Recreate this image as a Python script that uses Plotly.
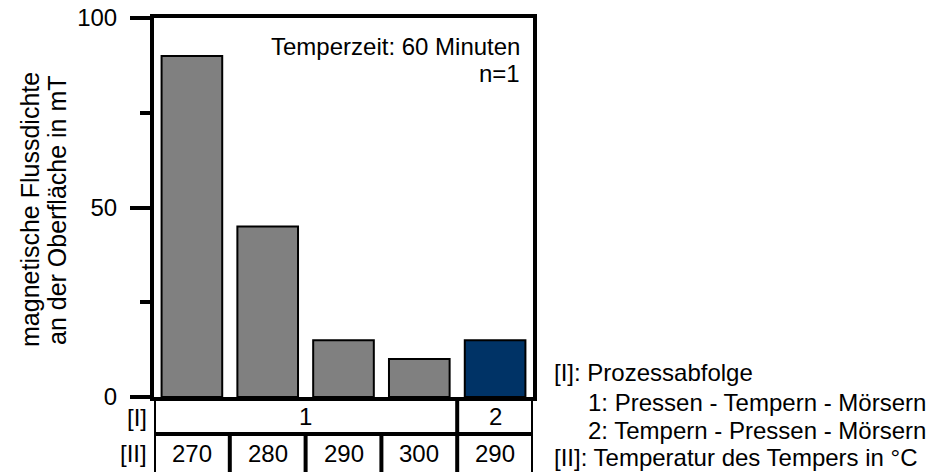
import plotly.graph_objects as go

# Magnetic flux density at the surface per sample
process_seq = ["1", "1", "1", "1", "2"]          # [I] Prozessabfolge
temper_temp = ["270", "280", "290", "300", "290"]  # [II] Temperatur des Tempers in °C
flux_mT = [90, 45, 15, 10, 15]
bar_colors = ["#808080", "#808080", "#808080", "#808080", "#003366"]

y_ticks = [0, 50, 100]

FONT = "Liberation Sans, Arial, sans-serif"
FS = 24
LW = 4
W, H = 932, 472
L, R, T, B = 154, 399, 18, 75
plot_h = H - T - B


def py(px):
    """pixel row -> paper y"""
    return (H - B - px) / plot_h


def pxp(px):
    """pixel column -> paper x"""
    return (px - L) / (W - L - R)


x_pos = list(range(len(flux_mT)))

fig = go.Figure(
    go.Bar(
        x=x_pos,
        y=flux_mT,
        width=0.8,
        marker=dict(color=bar_colors, line=dict(color="black", width=2)),
        hoverinfo="skip",
    )
)

fig.update_layout(
    width=W,
    height=H,
    margin=dict(l=L, r=R, t=T, b=B, autoexpand=False),
    paper_bgcolor="white",
    plot_bgcolor="white",
    showlegend=False,
    font=dict(family=FONT, size=FS, color="black"),
    xaxis=dict(
        range=[-0.5, len(flux_mT) - 0.5],
        showticklabels=False,
        ticks="",
        showgrid=False,
        zeroline=False,
        showline=True,
        linecolor="black",
        linewidth=LW,
        mirror=True,
        fixedrange=True,
    ),
    yaxis=dict(
        range=[0, 100],
        tickvals=y_ticks,
        ticks="outside",
        ticklen=20,
        tickwidth=LW,
        tickcolor="black",
        ticklabelstandoff=8,
        minor=dict(tickvals=[25, 75], ticks="outside", ticklen=10, tickwidth=LW, tickcolor="black"),
        showgrid=False,
        zeroline=False,
        showline=True,
        linecolor="black",
        linewidth=LW,
        mirror=True,
        tickfont=dict(family=FONT, size=FS),
        fixedrange=True,
    ),
)

# Table below the bars
n = len(flux_mT)
row1_bot = py(434)
row2_bot = py(477)
line = dict(color="black", width=LW)
shapes = [
    dict(type="line", xref="x", yref="paper", x0=-0.5, x1=n - 0.5, y0=row1_bot, y1=row1_bot, line=line),
    dict(type="line", xref="x", yref="paper", x0=-0.5, x1=n - 0.5, y0=row2_bot, y1=row2_bot, line=line),
    dict(type="line", xref="x", yref="paper", x0=-0.5, x1=-0.5, y0=0, y1=row2_bot, line=line),
    dict(type="line", xref="x", yref="paper", x0=n - 0.5, x1=n - 0.5, y0=0, y1=row2_bot, line=line),
]
# cell dividers: full height where the process group changes, row [II] only otherwise
for i in range(1, n):
    y_top = 0 if process_seq[i] != process_seq[i - 1] else row1_bot
    shapes.append(dict(type="line", xref="x", yref="paper", x0=i - 0.5, x1=i - 0.5,
                       y0=y_top, y1=row2_bot, line=line))
fig.update_layout(shapes=shapes)

ann = []
# row [I] labels, centered over each group
groups = []
start = 0
for i in range(1, n + 1):
    if i == n or process_seq[i] != process_seq[start]:
        groups.append((process_seq[start], (start + i - 1) / 2))
        start = i
for label, xc in groups:
    ann.append(dict(x=xc, y=py(416), xref="x", yref="paper", text=label, showarrow=False,
                    xanchor="center", yanchor="middle"))
for i, t in enumerate(temper_temp):
    ann.append(dict(x=i, y=py(453), xref="x", yref="paper", text=t, showarrow=False,
                    xanchor="center", yanchor="middle"))
ann.append(dict(x=pxp(149), y=py(417), xref="paper", yref="paper", text="[I]", showarrow=False,
                xanchor="right", yanchor="middle"))
ann.append(dict(x=pxp(149), y=py(453), xref="paper", yref="paper", text="[II]", showarrow=False,
                xanchor="right", yanchor="middle"))

# info text in the plot
ann.append(dict(x=pxp(522), y=py(47), xref="paper", yref="paper", text="Temperzeit: 60 Minuten",
                showarrow=False, xanchor="right", yanchor="middle"))
ann.append(dict(x=pxp(522), y=py(73), xref="paper", yref="paper", text="n=1",
                showarrow=False, xanchor="right", yanchor="middle"))

# y-axis title (two lines)
title_font = dict(family=FONT, size=25)
ann.append(dict(x=pxp(30), y=py(210), xref="paper", yref="paper", text="magnetische Flussdichte",
                showarrow=False, textangle=-90, xanchor="center", yanchor="middle", font=title_font))
ann.append(dict(x=pxp(57), y=py(210), xref="paper", yref="paper", text="an der Oberfläche in mT",
                showarrow=False, textangle=-90, xanchor="center", yanchor="middle", font=title_font))

# key on the right
key = [
    (552, 372, "[I]: Prozessabfolge"),
    (586, 402, "1: Pressen - Tempern - Mörsern"),
    (586, 430, "2: Tempern - Pressen - Mörsern"),
    (552, 457, "[II]: Temperatur des Tempers in °C"),
]
for xp, yp, txt in key:
    ann.append(dict(x=pxp(xp), y=py(yp), xref="paper", yref="paper", text=txt, showarrow=False,
                    xanchor="left", yanchor="middle"))

fig.update_layout(annotations=ann)

fig.write_html("out.html")
